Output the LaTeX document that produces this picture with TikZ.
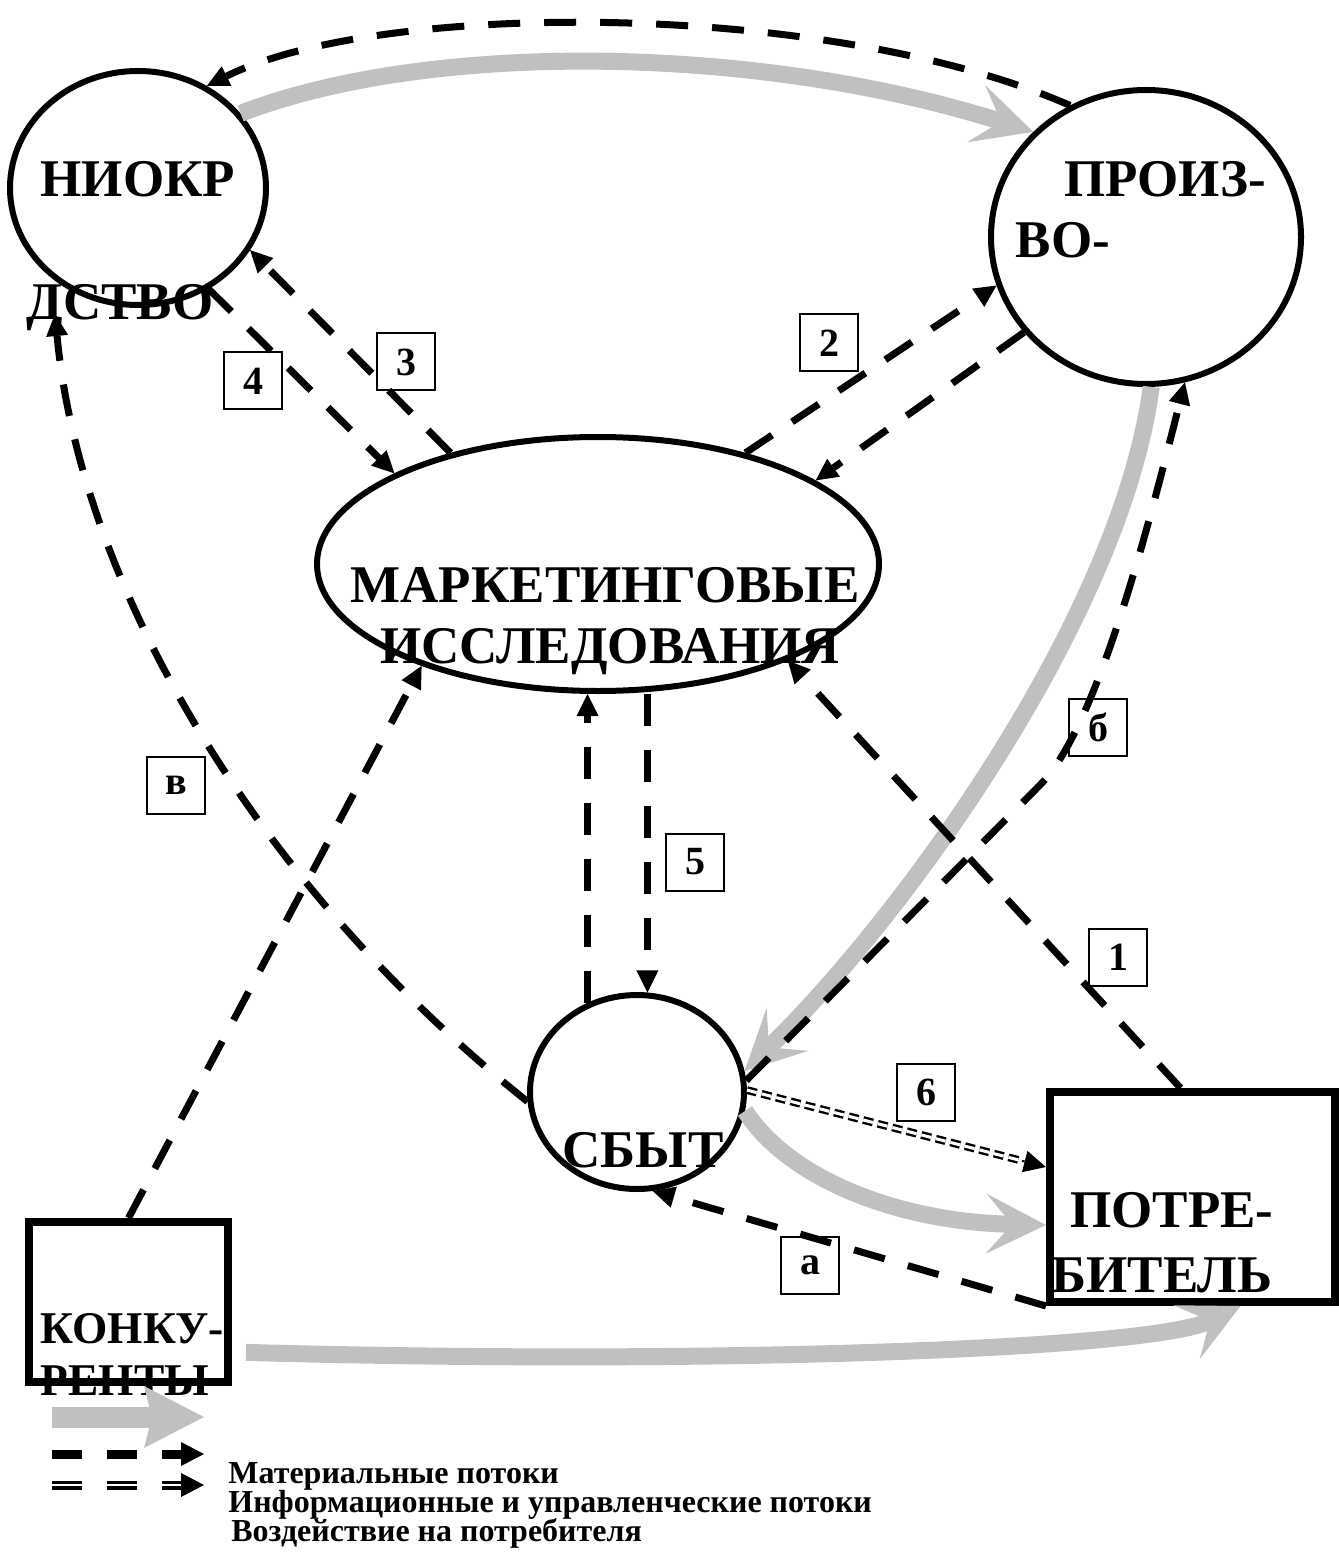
\documentclass[tikz,border=0pt]{standalone}
\usepackage{fontspec}
\setmainfont{Liberation Serif}
\usetikzlibrary{shapes.geometric,arrows.meta,calc}
\definecolor{flowgray}{RGB}{192,192,192}
\tikzstyle{stage} = [ellipse, draw, line width=3pt, inner sep=0pt]
\tikzstyle{party} = [rectangle, draw, line width=4pt, inner sep=0pt]
\tikzstyle{caption} = [inner sep=0pt, anchor=base, font=\fontsize{26.5}{30}\selectfont\bfseries]
\tikzstyle{numbox} = [rectangle, draw, line width=1pt, inner sep=0pt, minimum width=29pt, minimum height=28.5pt, font=\fontsize{20}{22}\selectfont\bfseries]
\tikzstyle{legend} = [inner sep=0pt, anchor=base west, font=\fontsize{16}{18}\selectfont\bfseries]
\tikzstyle{infoflow} = [draw, line width=3.5pt, dash pattern=on 16pt off 12pt, -{Triangle[length=11pt, width=11pt, line width=0pt]}]
\tikzstyle{goodsflow} = [draw, flowgray, line width=8.5pt, -{Stealth[length=30pt, width=30pt, inset=13pt, line width=0pt]}]
\tikzstyle{impactflow} = [draw, double, double distance=1.5pt, line width=1.2pt, dash pattern=on 5pt off 2.5pt]
\tikzstyle{impacttip} = [draw, line width=1pt, -{Triangle[length=11pt, width=11pt, line width=0pt]}]
\begin{document}
\begin{tikzpicture}[x=0.5pt, y=-0.5pt]
	\useasboundingbox (0,0) rectangle (1338,1561);
	%% NIOKR
	\node[stage, minimum width=128pt, minimum height=117pt] (NIOKR) at (138,188) {};
	\node[caption] (tNIOKR) at (138,197) {НИОКР};
	%% production
	\node[stage, minimum width=155pt, minimum height=147pt] (PROIZ) at (1146,237) {};
	\node[caption] (tPROIZa) at (1165,197) {ПРОИЗ-};
	\node[caption] (tPROIZb) at (1063,258) {ВО-};
	\node[caption] (tPROIZc) at (120,320) {ДСТВО};
	%% marketing research
	\node[stage, minimum width=281pt, minimum height=127pt] (MI) at (598,564) {};
	\node[caption] (tMIa) at (605,602) {МАРКЕТИНГОВЫЕ};
	\node[caption] (tMIb) at (610,663) {ИССЛЕДОВАНИЯ};
	%% sales
	\node[stage, minimum width=107pt, minimum height=97pt] (SBYT) at (637,1092) {};
	\node[caption] (tSBYT) at (643,1167) {СБЫТ};
	%% consumer
	\node[party, minimum width=142.5pt, minimum height=105pt] (POTR) at (1192.5,1197) {};
	\node[caption] (tPOTRa) at (1172,1227) {ПОТРЕ-};
	\node[caption] (tPOTRb) at (1162,1292) {БИТЕЛЬ};
	%% competitors
	\node[party, minimum width=99.5pt, minimum height=80pt] (KONK) at (128.5,1302) {};
	\node[caption, font=\fontsize{22.7}{26}\selectfont\bfseries] (tKONKa) at (132,1343) {КОНКУ-};
	\node[caption, font=\fontsize{22.7}{26}\selectfont\bfseries] (tKONKb) at (125,1395) {РЕНТЫ};
	%% numbered boxes
	\node[numbox] (n4) at (253,381) {4};
	\node[numbox] (n3) at (406,362) {3};
	\node[numbox] (n2) at (829,343) {2};
	\node[numbox] (nb) at (1098,727) {б};
	\node[numbox] (nv) at (176,785) {в};
	\node[numbox] (n5) at (695,862) {5};
	\node[numbox] (n1) at (1118,957) {1};
	\node[numbox] (n6) at (926,1092) {6};
	\node[numbox] (na) at (810,1265) {а};
	\coordinate (vtip) at (55,314);
	%% edges
	\path[goodsflow] (NIOKR.36) .. controls (430,40) and (760,45) .. (PROIZ.137);
	\path[infoflow] (PROIZ.120) .. controls (830,0) and (380,0) .. (NIOKR.56);
	\path[infoflow] (NIOKR.-55) -- (MI.156);
	\path[infoflow] (MI.143) -- (NIOKR.-29);
	\path[infoflow] (MI.37) -- (PROIZ.198);
	\path[infoflow] (PROIZ.218) -- (MI.21);
	\path[goodsflow] (PROIZ.-88) .. controls (1120,620) and (900,920) .. (SBYT.11);
	\path[infoflow] (SBYT.6) -- (1040,785) .. controls (1100,725) and (1154,503) .. (PROIZ.-75);
	\path[infoflow] ([xshift=-6pt]POTR.north) -- (MI.-27);
	\path[infoflow] (SBYT.119) -- (SBYT.119 |- MI.south);
	\path[infoflow] (MI.south -| SBYT.84) -- (SBYT.84);
	\path[infoflow] (SBYT.185) .. controls (250,880) and (80,580) .. (vtip);
	\path[infoflow] (KONK.north) -- (MI.210);
	\path[impactflow, shorten >=12pt] (SBYT.1) -- ([yshift=15pt]POTR.west);
	\path[impacttip] ($(SBYT.1)!0.92!([yshift=15pt]POTR.west)$) -- ([yshift=15pt]POTR.west);
	\path[goodsflow] (SBYT.-10) .. controls (790,1180) and (900,1222) .. ([yshift=-14pt]POTR.west);
	\path[infoflow] (POTR.south west) -- (SBYT.-81);
	\path[goodsflow, shorten <=7pt] ([yshift=-25pt]KONK.east) .. controls (700,1365) and (1150,1350) .. ([xshift=24pt]POTR.south);
	%% legend
	\coordinate (LG1a) at (52,1417);
	\coordinate (LG1b) at (204,1417);
	\coordinate (LG2a) at (52,1454);
	\coordinate (LG2b) at (204,1454);
	\coordinate (LG3a) at (52,1485);
	\coordinate (LG3b) at (204,1485);
	\path[goodsflow, line width=10.5pt, -{Stealth[length=30pt, width=31pt, inset=4pt, line width=0pt]}] (LG1a) -- (LG1b);
	\path[infoflow, line width=4.5pt, dash pattern=on 15pt off 12.5pt, -{Triangle[length=11.5pt, width=12pt, line width=0pt]}] (LG2a) -- (LG2b);
	\path[impactflow, line width=1.6pt, double distance=1.3pt, dash pattern=on 15pt off 12.5pt, shorten >=10pt] (LG3a) -- (LG3b);
	\path[impacttip, -{Triangle[length=11.5pt, width=12pt, line width=0pt]}] ($(LG3a)!0.85!(LG3b)$) -- (LG3b);
	\node[legend] (L1) at (228,1483) {Материальные потоки};
	\node[legend] (L2) at (228,1512) {Информационные и управленческие потоки};
	\node[legend] (L3) at (231,1541) {Воздействие на потребителя};
\end{tikzpicture}
\end{document}
